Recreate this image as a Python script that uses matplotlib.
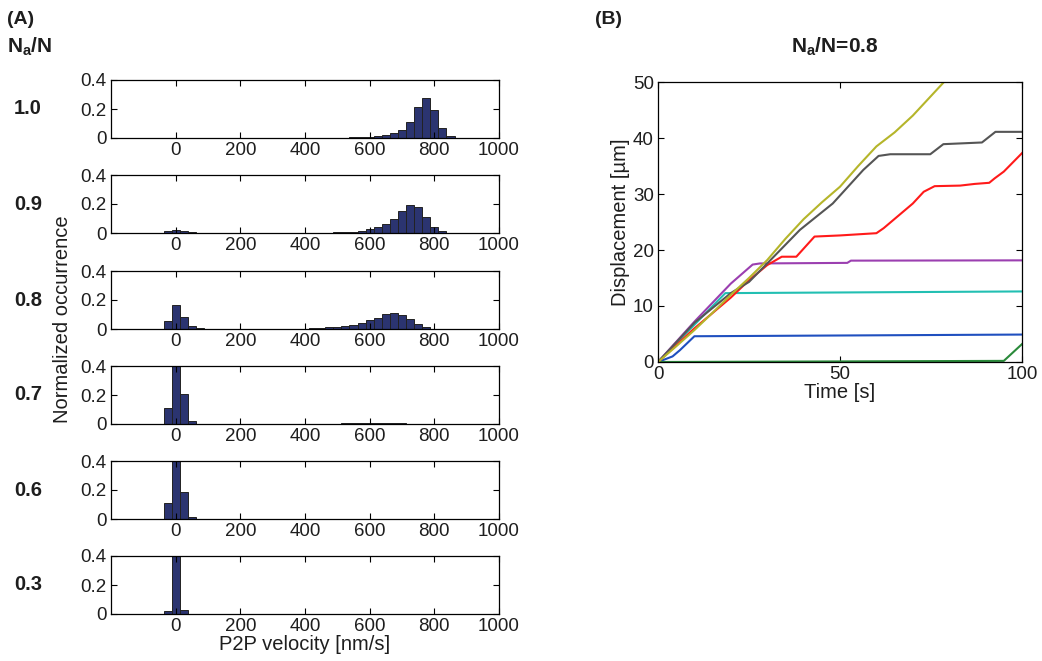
import numpy as np
import matplotlib
matplotlib.use('Agg')
import matplotlib.pyplot as plt

plt.rcParams['font.family'] = ['Liberation Sans', 'DejaVu Sans']
plt.rcParams['mathtext.fontset'] = 'custom'
plt.rcParams['mathtext.rm'] = 'Liberation Sans'
plt.rcParams['mathtext.bf'] = 'Liberation Sans:bold'
plt.rcParams['mathtext.it'] = 'Liberation Sans:italic'
plt.rcParams['text.color'] = '#1e1e1e'
plt.rcParams['axes.labelcolor'] = '#1e1e1e'
plt.rcParams['xtick.labelcolor'] = '#1e1e1e'
plt.rcParams['ytick.labelcolor'] = '#1e1e1e'

# --- (A) histogram data: bin centres [nm/s] and normalized occurrence ---
bin_centers = np.arange(-100, 901, 25)
ratios = ['1.0', '0.9', '0.8', '0.7', '0.6', '0.3']

occ_10 = [0, 0, 0, 0, 0, 0, 0, 0, 0, 0,
          0, 0, 0, 0, 0, 0, 0, 0, 0, 0,
          0.002, 0.002, 0.002, 0.002, 0.003, 0.003, 0.004, 0.006, 0.009, 0.014,
          0.018, 0.032, 0.053, 0.11, 0.213, 0.277, 0.19, 0.066, 0.016, 0.003, 0]
occ_09 = [0, 0.001, 0.003, 0.016, 0.023, 0.016, 0.005, 0.002, 0.001, 0.001,
          0.001, 0.001, 0.001, 0.001, 0.001, 0.001, 0.001, 0.001, 0.001, 0.001,
          0.001, 0.002, 0.002, 0.003, 0.004, 0.006, 0.009, 0.016, 0.025, 0.039,
          0.062, 0.10, 0.155, 0.194, 0.18, 0.11, 0.043, 0.011, 0.003, 0.001, 0]
occ_08 = [0, 0.001, 0.003, 0.055, 0.163, 0.08, 0.018, 0.004, 0.001, 0.001,
          0.001, 0.001, 0.001, 0.001, 0.001, 0.001, 0.001, 0.001, 0.001, 0.002,
          0.003, 0.004, 0.006, 0.011, 0.016, 0.021, 0.028, 0.039, 0.06, 0.076,
          0.101, 0.108, 0.094, 0.067, 0.032, 0.014, 0.003, 0.001, 0, 0, 0]
occ_07 = [0, 0, 0.003, 0.111, 0.46, 0.21, 0.023, 0.003, 0.001, 0.001,
          0.001, 0.001, 0.001, 0.001, 0.001, 0.001, 0.001, 0.001, 0.001, 0.001,
          0.001, 0.001, 0.001, 0.002, 0.003, 0.004, 0.006, 0.008, 0.01, 0.01,
          0.009, 0.006, 0.004, 0.002, 0.001, 0, 0, 0, 0, 0, 0]
occ_06 = [0, 0.001, 0.003, 0.112, 0.5, 0.183, 0.016, 0.002, 0.001, 0.001,
          0.001, 0.001, 0.001, 0.001, 0.001, 0.001, 0.001, 0.001, 0.001, 0.001,
          0.001, 0.001, 0.001, 0.001, 0.001, 0.001, 0.001, 0.001, 0.001, 0.001,
          0.001, 0.001, 0.001, 0, 0, 0, 0, 0, 0, 0, 0]
occ_03 = [0, 0, 0, 0.023, 0.9, 0.027, 0, 0, 0, 0,
          0, 0, 0, 0, 0, 0, 0, 0, 0, 0,
          0, 0, 0, 0, 0, 0, 0, 0, 0, 0,
          0, 0, 0, 0, 0, 0, 0, 0, 0, 0, 0]
occurrences = [occ_10, occ_09, occ_08, occ_07, occ_06, occ_03]

# --- (B) displacement traces, Na/N = 0.8 ---
t_yellow = [0, 5, 10, 15, 20, 25, 30, 35, 40, 45, 50, 55, 60, 65, 70, 75, 80, 85]
d_yellow = [0, 2.8, 5.7, 8.8, 12, 15, 18.2, 22, 25.5, 28.5, 31.3, 35, 38.5, 41, 44, 47.5, 51, 54]
t_gray = [0, 10, 20, 25, 30, 39, 48, 56.4, 60.6, 63.8, 74.8, 78.4, 89, 92.7, 100]
d_gray = [0, 7, 12.3, 14.3, 17.6, 23.6, 28.3, 34.3, 36.8, 37.1, 37.1, 38.9, 39.2, 41.1, 41.1]
t_red = [0, 10, 20, 25, 30, 34, 38, 43, 50, 60, 62, 70, 73, 76, 83, 87, 91, 92.5, 95, 100]
d_red = [0, 6, 11.5, 14.6, 17.3, 18.8, 18.8, 22.4, 22.6, 23, 23.9, 28.3, 30.4, 31.4, 31.5, 31.8, 32, 32.8, 34, 37.3]
t_purple = [0, 10, 20, 26, 28, 52, 53, 100]
d_purple = [0, 7.2, 14, 17.4, 17.6, 17.7, 18.1, 18.15]
t_cyan = [0, 18.5, 100]
d_cyan = [0, 12.3, 12.6]
t_blue = [0, 4, 6, 10, 100]
d_blue = [0, 1, 2.1, 4.6, 4.9]
t_green = [0, 95, 100]
d_green = [0, 0.2, 3.2]

W, H = 1042, 661
fig = plt.figure(figsize=(W / 100, H / 100), dpi=100)


def px_axes(left, top, right, bottom):
    return fig.add_axes([left / W, 1 - bottom / H, (right - left) / W, (bottom - top) / H])


tick_fs = 13.5
label_fs = 14.5
tops = [80, 175, 271, 366, 461, 556]
for i, (lab, occ) in enumerate(zip(ratios, occurrences)):
    ax = px_axes(111, tops[i], 499, tops[i] + 58)
    ax.bar(bin_centers, occ, width=25, color='#2b3470', edgecolor='#222222', linewidth=0.7)
    ax.set_xlim(-200, 1000)
    ax.set_ylim(0, 0.4)
    ax.set_xticks([0, 200, 400, 600, 800, 1000])
    ax.set_yticks([0, 0.2, 0.4])
    ax.set_yticklabels(['0', '0.2', '0.4'])
    ax.tick_params(direction='in', top=True, right=True, length=4, labelsize=tick_fs, pad=3)
    for s in ax.spines.values():
        s.set_linewidth(0.9)
    fig.text(28 / W, 1 - (tops[i] + 29) / H, lab, fontsize=14.5, fontweight='bold',
             ha='center', va='center')
    if i == 5:
        ax.set_xlabel('P2P velocity [nm/s]', fontsize=label_fs, labelpad=0)

fig.text(63 / W, 1 - 319 / H, 'Normalized occurrence', fontsize=label_fs, rotation=90,
         ha='center', va='center')
fig.text(7 / W, 1 - 20 / H, '(A)', fontsize=14, fontweight='bold', ha='left', va='center')
fig.text(7 / W, 1 - 47 / H, r'$\mathbf{N_a}$/N', fontsize=15, fontweight='bold',
         ha='left', va='center')

# --- (B) ---
axb = px_axes(658, 82, 1022, 362)
axb.plot(t_blue, d_blue, color='#1f4fbf', lw=1.5)
axb.plot(t_green, d_green, color='#2a8a3a', lw=1.5)
axb.plot(t_cyan, d_cyan, color='#22bfb2', lw=1.5)
axb.plot(t_purple, d_purple, color='#9b3fb0', lw=1.5)
axb.plot(t_red, d_red, color='#ff1a1a', lw=1.5)
axb.plot(t_gray, d_gray, color='#555555', lw=1.5)
axb.plot(t_yellow, d_yellow, color='#b5b52a', lw=1.5)
axb.set_xlim(0, 100)
axb.set_ylim(0, 50)
axb.set_xticks([0, 50, 100])
axb.set_yticks([0, 10, 20, 30, 40, 50])
axb.tick_params(direction='in', top=True, right=True, length=4, labelsize=tick_fs, pad=3)
for s in axb.spines.values():
    s.set_linewidth(0.9)
axb.set_xlabel('Time [s]', fontsize=label_fs, labelpad=0)
axb.set_ylabel('Displacement [\u00b5m]', fontsize=label_fs, labelpad=2)
fig.text(835 / W, 1 - 47 / H, r'$\mathbf{N_a}$/N=0.8', fontsize=15, fontweight='bold',
         ha='center', va='center')
fig.text(595 / W, 1 - 19 / H, '(B)', fontsize=14, fontweight='bold', ha='left', va='center')

fig.savefig('out.png', dpi=100)
